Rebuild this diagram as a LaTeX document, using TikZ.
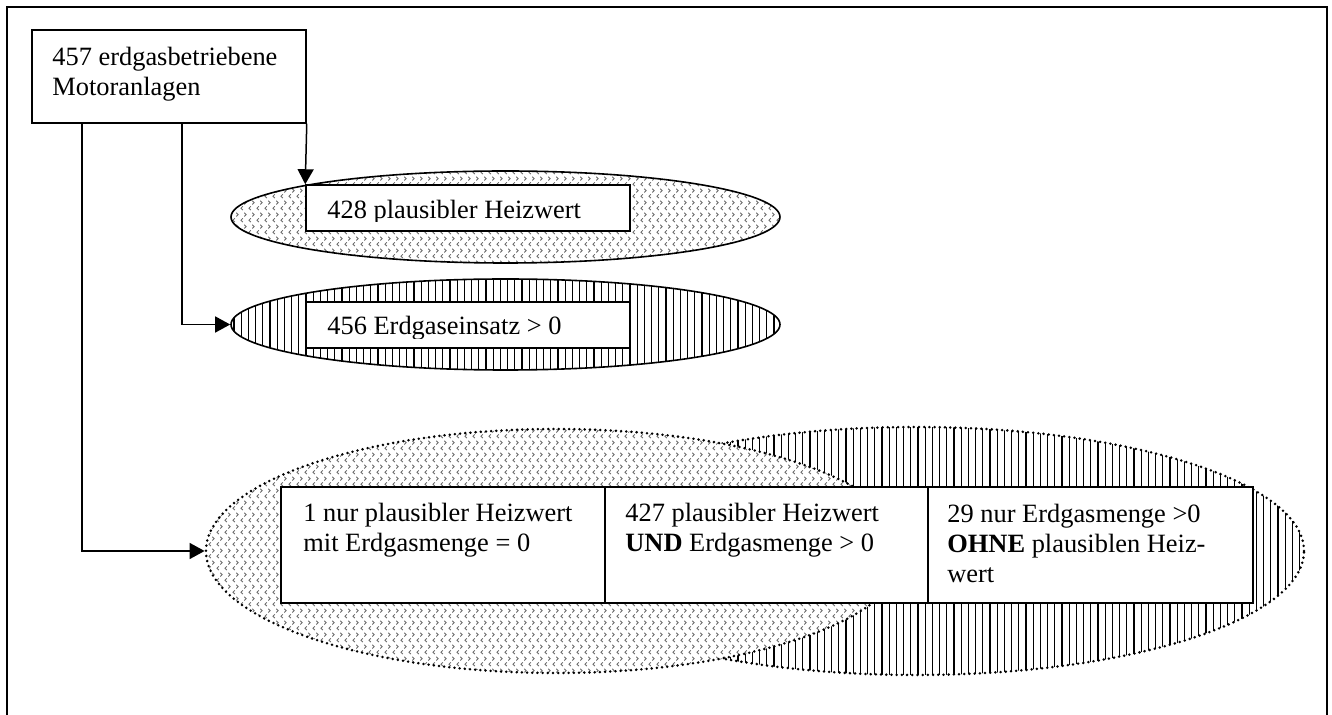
\documentclass[tikz,border=0pt]{standalone}
\usepackage{fontspec}
\setmainfont{Liberation Serif}
\usetikzlibrary{shapes.geometric,arrows.meta,patterns,calc}

\pgfdeclarepatternformonly{chevs}{\pgfqpoint{0pt}{0pt}}{\pgfqpoint{4pt}{6pt}}{\pgfqpoint{4pt}{6pt}}{%
  \pgfsetlinewidth{0.45pt}%
  \pgfpathmoveto{\pgfqpoint{1.6pt}{0.5pt}}%
  \pgfpathlineto{\pgfqpoint{0.5pt}{1.5pt}}%
  \pgfpathlineto{\pgfqpoint{1.6pt}{2.5pt}}%
  \pgfpathmoveto{\pgfqpoint{2.4pt}{3.5pt}}%
  \pgfpathlineto{\pgfqpoint{3.5pt}{4.5pt}}%
  \pgfpathlineto{\pgfqpoint{2.4pt}{5.5pt}}%
  \pgfusepath{stroke}%
}
\pgfdeclarepatternformonly{vlines}{\pgfqpoint{0pt}{-1pt}}{\pgfqpoint{3.6pt}{4pt}}{\pgfqpoint{3.6pt}{3pt}}{%
  \pgfsetlinewidth{0.6pt}%
  \pgfpathmoveto{\pgfqpoint{1.8pt}{-1pt}}%
  \pgfpathlineto{\pgfqpoint{1.8pt}{4pt}}%
  \pgfusepath{stroke}%
}

\begin{document}
\begin{tikzpicture}[x=0.5pt,y=-0.5pt,
  conn/.style={line width=0.75pt,-{Triangle[length=7.5pt,width=8pt]}},
  boxr/.style={rectangle,draw,line width=0.75pt,fill=white,inner sep=0pt},
  solidell/.style={ellipse,draw,line width=0.8pt,inner sep=0pt},
  dotell/.style={ellipse,draw,line width=1.4pt,dash pattern=on 0pt off 2.6pt,line cap=round,inner sep=0pt},
  chevfill/.style={preaction={fill=white},preaction={solid,line cap=butt,pattern=chevs,pattern color=black!60}},
  vfill/.style={preaction={fill=white},preaction={solid,line cap=butt,pattern=vlines,pattern color=black}},
  txt/.style={anchor=base west,inner sep=0pt,align=left,font=\fontsize{13.2}{15}\selectfont}]

\useasboundingbox (0,0) rectangle (1332,715);

% outer frame
\draw[line width=0.6pt] (7,716) -- (7,7) -- (1327,7) -- (1327,716);

% top box
\node[boxr,minimum width=137pt,minimum height=46.5pt] (box) at (169,76.5) {};
\node[txt] (tbox) at (52,96) {457 erdgasbetriebene\\Motoranlagen};

% upper ellipses
\node[solidell,chevfill,minimum width=274.5pt,minimum height=46pt] (e1) at (505.5,217) {};
\node[solidell,vfill,minimum width=274.5pt,minimum height=45.5pt] (e2) at (505.5,324.5) {};
\node[boxr,minimum width=162pt,minimum height=23pt] (r1) at (468,208) {};
\node[boxr,minimum width=162pt,minimum height=23pt] (r2) at (468,325) {};
\begin{scope}
  \clip (r1.north west) rectangle ($(r1.north east)+(0,37)$);
  \node[txt] (t1) at (327,219) {428 plausibler Heizwert};
\end{scope}
\begin{scope}
  \clip (r2.north west) rectangle ($(r2.north east)+(0,37)$);
  \node[txt] (t2) at (327,335) {456 Erdgaseinsatz > 0};
\end{scope}

% lower overlapping ellipses
\node[dotell,vfill,minimum width=388pt,minimum height=124pt] (B) at (916,551) {};
\node[dotell,chevfill,minimum width=350pt,minimum height=122pt] (A) at (556,551) {};

\node[boxr,minimum width=162pt,minimum height=58pt] (ra) at (443,545) {};
\node[boxr,minimum width=161.5pt,minimum height=58pt] (rb) at (766.5,545) {};
\node[boxr,minimum width=162.5pt,minimum height=58pt] (rc) at (1090.5,545) {};
\node[txt] (ta) at (303,552) {1 nur plausibler Heizwert\\mit Erdgasmenge = 0};
\node[txt] (tb) at (625,552) {427 plausibler Heizwert\\\textbf{UND} Erdgasmenge > 0};
\node[txt] (tc) at (947,582) {29 nur Erdgasmenge >0\\\textbf{OHNE} plausiblen Heiz-\\wert};

% connectors
\coordinate (c2) at (182,123);
\coordinate (c3) at (82,123);
\draw[conn] (box.south east) -- (r1.north west);
\draw[conn] (c2) |- (e2.west);
\draw[conn] (c3) |- (A.west);
\end{tikzpicture}
\end{document}
